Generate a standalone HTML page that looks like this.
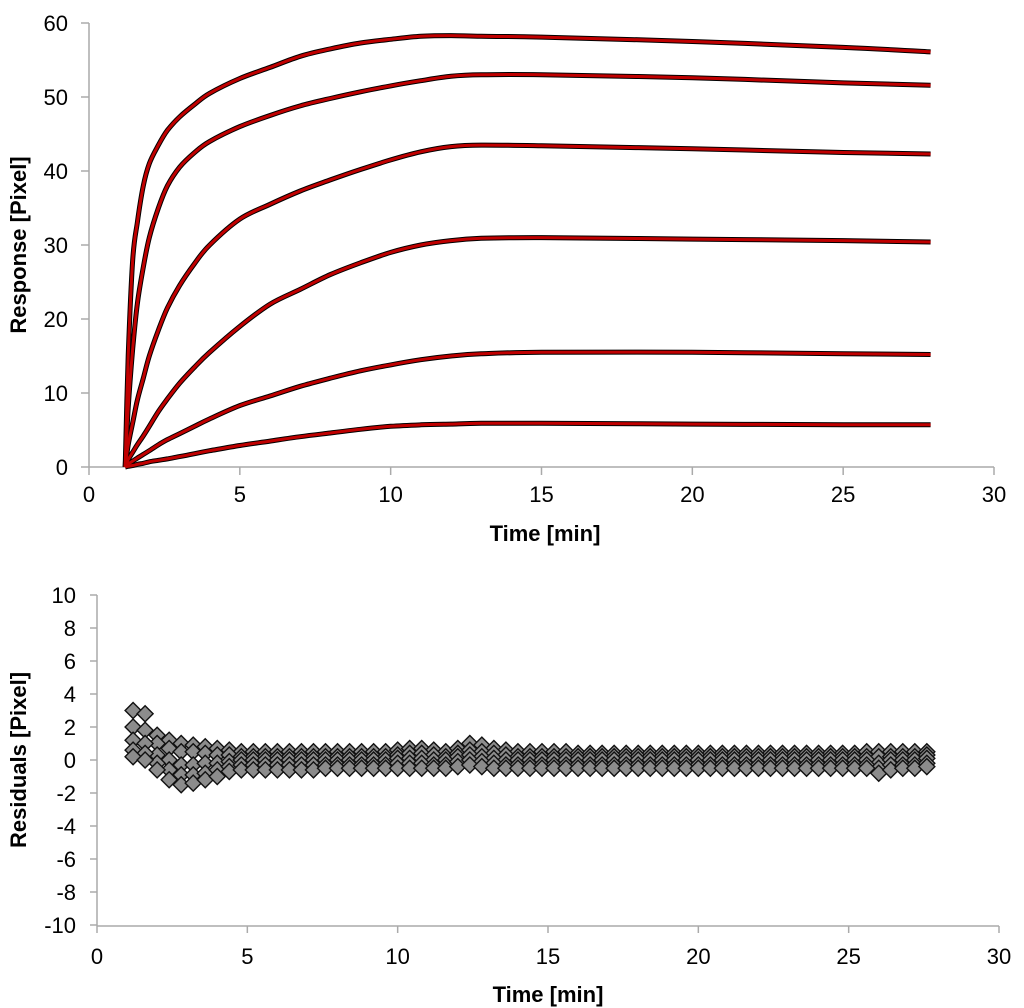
<!DOCTYPE html>
<html><head><meta charset="utf-8"><style>
body{margin:0;background:#fff;}
svg{display:block;font-family:"Liberation Sans",Arial,sans-serif;}
.tick{font-size:22px;fill:#000;}
.title{font-size:22px;font-weight:bold;fill:#000;}
</style></head><body>
<svg id="c" width="1024" height="1008"></svg>
<script>
const times=[1.2,1.3,1.45,1.6,1.8,2,2.3,2.6,3,3.5,4,5,6,7,8,9,10,11,12,13,15,20,25,27.9];
const s1=[0,15,28,33,38,41,43.5,45.5,47.3,49,50.5,52.5,54,55.5,56.5,57.3,57.8,58.2,58.3,58.2,58.1,57.5,56.7,56.1];
const s2=[0,8,16,22,27,31,35,38,40.5,42.5,44,46,47.5,48.8,49.8,50.7,51.5,52.2,52.8,53,53,52.6,51.9,51.6];
const s3=[0,3,6,9,12,15,18.5,21.5,24.5,27.5,30,33.5,35.5,37.3,38.8,40.2,41.5,42.6,43.3,43.5,43.4,43,42.5,42.3];
const s4=[0,1,2,3,4.2,5.5,7.5,9.2,11.3,13.5,15.5,19,22,24,26,27.6,29,30,30.6,30.9,31,30.8,30.6,30.4];
const s5=[0,0.4,0.8,1.2,1.7,2.2,3,3.7,4.5,5.5,6.5,8.3,9.6,10.9,12,13,13.8,14.5,15,15.3,15.5,15.5,15.3,15.2];
const s6=[0,0.1,0.2,0.35,0.5,0.7,0.9,1.1,1.4,1.8,2.2,2.9,3.5,4.1,4.6,5.1,5.5,5.7,5.8,5.9,5.9,5.8,5.7,5.7];
const xTicks=[0,5,10,15,20,25,30];
const yTicksTop=[0,10,20,30,40,50,60];
const yTicksBot=[-10,-8,-6,-4,-2,0,2,4,6,8,10];
const resT=[1.2,1.6,2.0,2.4,2.8,3.2,3.6,4.0,4.4,4.8,5.2,5.6,6.0,6.4,6.8,7.2,7.6,8.0,8.4,8.8,9.2,9.6,10.0,10.4,10.8,11.2,11.6,12.0,12.4,12.8,13.2,13.6,14.0,14.4,14.8,15.2,15.6,16.0,16.4,16.8,17.2,17.6,18.0,18.4,18.8,19.2,19.6,20.0,20.4,20.8,21.2,21.6,22.0,22.4,22.8,23.2,23.6,24.0,24.4,24.8,25.2,25.6,26.0,26.4,26.8,27.2,27.6];
const resUp=[3.0,2.8,1.5,1.2,1.0,0.9,0.8,0.7,0.6,0.5,0.5,0.5,0.5,0.5,0.5,0.5,0.5,0.5,0.5,0.5,0.5,0.5,0.6,0.7,0.7,0.6,0.5,0.7,1.0,0.9,0.7,0.6,0.5,0.5,0.5,0.5,0.5,0.4,0.4,0.4,0.4,0.4,0.4,0.4,0.4,0.4,0.4,0.4,0.4,0.4,0.4,0.4,0.4,0.4,0.4,0.4,0.4,0.4,0.4,0.4,0.4,0.5,0.5,0.5,0.5,0.5,0.5];
const resMidUp=[2.0,1.8,1.0,0.7,0.5,0.5,0.4,0.3,0.3,0.2,0.2,0.2,0.2,0.2,0.2,0.2,0.2,0.2,0.2,0.2,0.2,0.2,0.3,0.4,0.4,0.3,0.2,0.4,0.6,0.5,0.4,0.3,0.2,0.2,0.2,0.2,0.2,0.2,0.2,0.2,0.2,0.2,0.2,0.2,0.2,0.2,0.2,0.2,0.2,0.2,0.2,0.2,0.2,0.2,0.2,0.2,0.2,0.2,0.2,0.2,0.2,0.2,0.2,0.2,0.2,0.2,0.3];
const resMid=[1.2,1.0,0.3,0.0,-0.3,-0.3,-0.2,-0.2,-0.1,0.0,0.0,0.0,0.0,0.0,0.0,0.0,0.0,0.0,0.0,0.0,0.0,0.0,0.1,0.1,0.1,0.0,0.0,0.2,0.3,0.2,0.1,0.0,0.0,0.0,0.0,0.0,0.0,0.0,0.0,0.0,0.0,0.0,0.0,0.0,0.0,0.0,0.0,0.0,0.0,0.0,0.0,0.0,0.0,0.0,0.0,0.0,0.0,0.0,0.0,0.0,0.0,0.0,-0.2,0.0,0.0,0.0,0.1];
const resMidLo=[0.6,0.4,-0.2,-0.6,-0.9,-0.9,-0.8,-0.6,-0.4,-0.3,-0.3,-0.3,-0.3,-0.3,-0.3,-0.3,-0.3,-0.3,-0.3,-0.3,-0.3,-0.3,-0.2,-0.2,-0.2,-0.3,-0.3,-0.1,0.0,-0.1,-0.2,-0.3,-0.3,-0.3,-0.3,-0.3,-0.3,-0.3,-0.3,-0.3,-0.3,-0.3,-0.3,-0.3,-0.3,-0.3,-0.3,-0.3,-0.3,-0.3,-0.3,-0.3,-0.3,-0.3,-0.3,-0.3,-0.3,-0.3,-0.3,-0.3,-0.3,-0.3,-0.5,-0.3,-0.3,-0.3,-0.2];
const resLo=[0.2,0.0,-0.6,-1.2,-1.5,-1.4,-1.2,-1.0,-0.7,-0.6,-0.6,-0.6,-0.6,-0.6,-0.6,-0.6,-0.5,-0.5,-0.5,-0.5,-0.5,-0.5,-0.5,-0.5,-0.5,-0.5,-0.5,-0.4,-0.3,-0.4,-0.5,-0.5,-0.5,-0.5,-0.5,-0.5,-0.5,-0.5,-0.5,-0.5,-0.5,-0.5,-0.5,-0.5,-0.5,-0.5,-0.5,-0.5,-0.5,-0.5,-0.5,-0.5,-0.5,-0.5,-0.5,-0.5,-0.5,-0.5,-0.5,-0.5,-0.5,-0.5,-0.8,-0.6,-0.5,-0.5,-0.4];

const NS="http://www.w3.org/2000/svg";
const svg=document.getElementById('c');
function mk(tag,attrs,parent){const e=document.createElementNS(NS,tag);for(const k in attrs)e.setAttribute(k,attrs[k]);(parent||svg).appendChild(e);return e;}
const tx=t=>89+t*(994-89)/30;
const ty=v=>467-v*(467-23)/60;
const bx=t=>97+t*(999-97)/30;
const by=v=>760-v*(760-595)/10;
function smooth(pts){
 let d='M'+pts[0][0].toFixed(1)+','+pts[0][1].toFixed(1);
 for(let i=0;i<pts.length-1;i++){
  const p0=pts[Math.max(0,i-1)],p1=pts[i],p2=pts[i+1],p3=pts[Math.min(pts.length-1,i+2)];
  const c1x=p1[0]+(p2[0]-p0[0])/6,c1y=p1[1]+(p2[1]-p0[1])/6;
  const c2x=p2[0]-(p3[0]-p1[0])/6,c2y=p2[1]-(p3[1]-p1[1])/6;
  d+=`C${c1x.toFixed(1)},${c1y.toFixed(1)} ${c2x.toFixed(1)},${c2y.toFixed(1)} ${p2[0].toFixed(1)},${p2[1].toFixed(1)}`;
 }
 return d;
}

let g=mk('g',{});


mk('line',{x1:89,y1:23,x2:89,y2:467,stroke:'#aaa','stroke-width':1.5},g);
mk('line',{x1:89,y1:467,x2:994,y2:467,stroke:'#aaa','stroke-width':1.5},g);
yTicksTop.forEach(v=>{mk('line',{x1:81,x2:89,y1:ty(v),y2:ty(v),stroke:'#aaa','stroke-width':1.5},g);
 const t=mk('text',{x:68,y:ty(v)+8,'text-anchor':'end',class:'tick'},g);t.textContent=v;
 
 });
xTicks.forEach(v=>{mk('line',{x1:tx(v),x2:tx(v),y1:467,y2:475,stroke:'#aaa','stroke-width':1.5},g);
 const t=mk('text',{x:tx(v),y:502,'text-anchor':'middle',class:'tick'},g);t.textContent=v;
 
 });
let tt=mk('text',{x:545,y:541,'text-anchor':'middle',class:'title'});tt.textContent='Time [min]';


tt=mk('text',{x:0,y:0,'text-anchor':'middle',class:'title',transform:'translate(26,245) rotate(-90)'});tt.textContent='Response [Pixel]';



const series=[s1,s2,s3,s4,s5,s6];
series.forEach((s,i)=>{
 const p=mk('path',{d:smooth(s.map((v,j)=>[tx(times[j]),ty(v)])),fill:'none',stroke:'#000','stroke-width':5,'stroke-linejoin':'round'});
 
 
});
series.forEach((s,i)=>{
 const p=mk('path',{d:smooth(s.map((v,j)=>[tx(times[j]),ty(v)])),fill:'none',stroke:'#c00000','stroke-width':3,'stroke-linejoin':'round'});
 
 
});

g=mk('g',{});


mk('line',{x1:97,y1:595,x2:97,y2:926,stroke:'#aaa','stroke-width':1.5},g);
mk('line',{x1:97,y1:926,x2:999,y2:926,stroke:'#aaa','stroke-width':1.5},g);
yTicksBot.forEach(v=>{mk('line',{x1:90,x2:97,y1:by(v),y2:by(v),stroke:'#aaa','stroke-width':1.5},g);
 const t=mk('text',{x:76,y:by(v)+8,'text-anchor':'end',class:'tick'},g);t.textContent=v;
 
 });
xTicks.forEach(v=>{mk('line',{x1:bx(v),x2:bx(v),y1:926,y2:933,stroke:'#aaa','stroke-width':1.5},g);
 const t=mk('text',{x:bx(v),y:964,'text-anchor':'middle',class:'tick'},g);t.textContent=v;
 
 });
tt=mk('text',{x:548,y:1002,'text-anchor':'middle',class:'title'});tt.textContent='Time [min]';


tt=mk('text',{x:0,y:0,'text-anchor':'middle',class:'title',transform:'translate(26,760) rotate(-90)'});tt.textContent='Residuals [Pixel]';



const rg=mk('g',{});


[resUp,resMidUp,resMid,resMidLo,resLo].forEach(arr=>{
 arr.forEach((v,j)=>{
  const x=bx(resT[j]),y=by(v),r=8;
  const p=mk('path',{d:`M${x},${y-r}L${x+r},${y}L${x},${y+r}L${x-r},${y}Z`,fill:'#8c8c8c',stroke:'#111','stroke-width':1.4},rg);
  
  
 });
});
</script>
</body></html>
